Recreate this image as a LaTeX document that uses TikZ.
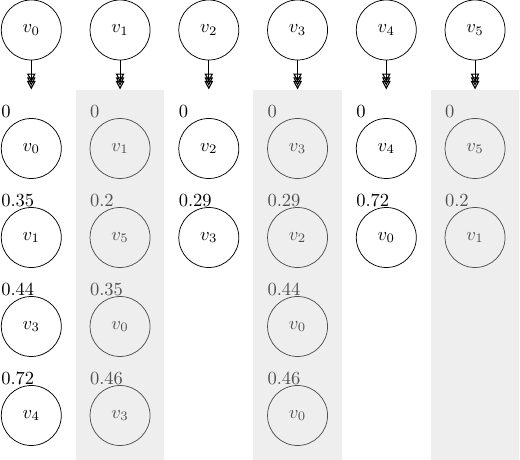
\documentclass[tikz,border=0pt]{standalone}
\usetikzlibrary{arrows.meta}
\definecolor{colbg}{RGB}{238,238,238}
\definecolor{dimc}{RGB}{80,80,80}
\tikzset{
  vtx/.style={draw, circle, minimum size=60*0.5405pt, inner sep=0pt},
  dimvtx/.style={vtx, draw=dimc, text=dimc},
  wlab/.style={anchor=base west, inner sep=0pt},
  dimlab/.style={wlab, text=dimc},
  band/.style={fill=colbg, draw=none},
  ptr/.style={-{Triangle[open,length=4.6pt,width=4.6pt,sep=-2.6pt,line width=0.6pt]Triangle[open,length=4.6pt,width=4.6pt,sep=-2.6pt,line width=0.6pt]Triangle[open,length=4.6pt,width=4.6pt,line width=0.6pt]}, line width=0.5pt}
}
\begin{document}
\begin{tikzpicture}[x=0.5405pt, y=-0.5405pt]
\useasboundingbox (0,0) rectangle (520,460);
% grey bands
\foreach \c in {1,3,5} {
  \fill[band] ({31.3+88.75*\c-44.4},89.5) rectangle ({31.3+88.75*\c+44.4},460);
}
% top vertices
\foreach \c in {0,...,5} {
  \node[vtx] (t\c) at ({31.3+88.75*\c},30) {$v_{\c}$};
  \coordinate (e\c) at ({31.3+88.75*\c},89.5);
  \draw[ptr] (t\c) -- (e\c);
}
% lists: column/row/weight/vertex
\foreach \c/\r/\w/\v in {
  0/0/0/0, 0/1/0.35/1, 0/2/0.44/3, 0/3/0.72/4,
  1/0/0/1, 1/1/0.2/5, 1/2/0.35/0, 1/3/0.46/3,
  2/0/0/2, 2/1/0.29/3,
  3/0/0/3, 3/1/0.29/2, 3/2/0.44/0, 3/3/0.46/0,
  4/0/0/4, 4/1/0.72/0,
  5/0/0/5, 5/1/0.2/1} {
  \ifodd\c
    \node[dimvtx] (n\c-\r) at ({31.3+88.75*\c},{148.5+89*\r}) {$v_{\v}$};
    \node[dimlab] (l\c-\r) at ([yshift=0.4pt]n\c-\r.north -| n\c-\r.west) {\w};
  \else
    \node[vtx] (n\c-\r) at ({31.3+88.75*\c},{148.5+89*\r}) {$v_{\v}$};
    \node[wlab] (l\c-\r) at ([yshift=0.4pt]n\c-\r.north -| n\c-\r.west) {\w};
  \fi
}
\end{tikzpicture}
\end{document}
